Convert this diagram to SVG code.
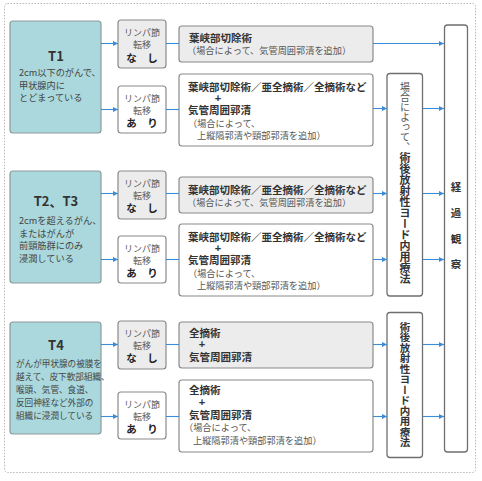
<svg xmlns="http://www.w3.org/2000/svg" width="482" height="481" viewBox="0 0 482 481">
<defs>
<marker id="ah" viewBox="0 0 6 6" refX="6" refY="3" markerWidth="5" markerHeight="5" orient="auto" markerUnits="userSpaceOnUse">
<path d="M0,0 L6,3 L0,6 z" fill="#3b8bd6"/>
</marker>
<style>
text{font-family:"Noto Sans CJK JP","Noto Sans",sans-serif;fill:#333;dominant-baseline:central}
.stage{fill:#aad8dc;stroke:#8f9a9b;stroke-width:1.2}
.lym{stroke:#8a8a8a;stroke-width:1.2}
.gray{fill:#ececec}
.white{fill:#fff}
.tr{stroke:#8a8a8a;stroke-width:1.2}
.vb{fill:#fff;stroke:#6f6f6f;stroke-width:1.3}
.tt{font-size:13px;font-weight:bold;text-anchor:middle;fill:#333}
.desc{font-size:9.2px;fill:#444}
.desc4{font-size:8.6px;fill:#444}
.ly{font-size:9px;fill:#5a5a5a;text-anchor:middle}
.lyb{font-size:10.5px;font-weight:bold;text-anchor:middle;fill:#222}
.b{font-size:10.5px;font-weight:bold;fill:#333}
.p{font-size:11px;font-weight:bold;fill:#333;text-anchor:middle;font-family:"Liberation Sans",sans-serif}
.n{font-size:9.2px;fill:#555}
.vt{writing-mode:vertical-rl;text-anchor:start}
.obs{font-size:10.5px;font-weight:bold;text-anchor:middle;fill:#333}
.conn line{stroke:#3b8bd6;stroke-width:1.1}
</style>
</defs>
<rect width="482" height="481" fill="#fff"/>
<rect x="4.5" y="3.5" width="471" height="469" rx="3" fill="none" stroke="#b8b8b8" stroke-width="1" stroke-dasharray="1.5 1.5"/>

<g id="t1">
<rect class="stage" x="10" y="21" width="91" height="112" rx="3"/>
<text class="tt" x="56" y="55">T1</text>
<text class="desc" x="19" y="72">2cm以下のがんで、</text>
<text class="desc" x="19" y="84.5">甲状腺内に</text>
<text class="desc" x="19" y="97">とどまっている</text>
</g>
<g id="t23">
<rect class="stage" x="10" y="171" width="91" height="112" rx="3"/>
<text class="tt" x="56" y="200">T2、T3</text>
<text class="desc" x="19" y="220">2cmを超えるがん、</text>
<text class="desc" x="19" y="232.5">またはがんが</text>
<text class="desc" x="19" y="245">前頸筋群にのみ</text>
<text class="desc" x="19" y="257.5">浸潤している</text>
</g>
<g id="t4">
<rect class="stage" x="10" y="322" width="91" height="112" rx="3"/>
<text class="tt" x="56" y="344">T4</text>
<text class="desc4" x="16" y="363">がんが甲状腺の被膜を</text>
<text class="desc4" x="16" y="376">越えて、皮下軟部組織、</text>
<text class="desc4" x="16" y="389">喉頭、気管、食道、</text>
<text class="desc4" x="16" y="402">反回神経など外部の</text>
<text class="desc4" x="16" y="415">組織に浸潤している</text>
</g>

<g id="l1n"><rect class="lym gray" x="118" y="20" width="48" height="48" rx="3"/>
<text class="ly" x="142" y="32">リンパ節</text><text class="ly" x="142" y="44">転移</text><text class="lyb" x="142" y="57">な　し</text></g>
<g id="l1a"><rect class="lym white" x="118" y="86" width="48" height="47" rx="3"/>
<text class="ly" x="142" y="98">リンパ節</text><text class="ly" x="142" y="110">転移</text><text class="lyb" x="142" y="122">あ　り</text></g>
<g id="l2n"><rect class="lym gray" x="118" y="171" width="48" height="48" rx="3"/>
<text class="ly" x="142" y="183">リンパ節</text><text class="ly" x="142" y="195">転移</text><text class="lyb" x="142" y="207">な　し</text></g>
<g id="l2a"><rect class="lym white" x="118" y="236" width="48" height="47" rx="3"/>
<text class="ly" x="142" y="248">リンパ節</text><text class="ly" x="142" y="260">転移</text><text class="lyb" x="142" y="272">あ　り</text></g>
<g id="l4n"><rect class="lym gray" x="118" y="321" width="48" height="48" rx="3"/>
<text class="ly" x="142" y="333">リンパ節</text><text class="ly" x="142" y="345">転移</text><text class="lyb" x="142" y="357">な　し</text></g>
<g id="l4a"><rect class="lym white" x="118" y="392" width="48" height="47" rx="3"/>
<text class="ly" x="142" y="404">リンパ節</text><text class="ly" x="142" y="416">転移</text><text class="lyb" x="142" y="428">あ　り</text></g>

<g id="tr1"><rect class="tr gray" x="179" y="26" width="194" height="36" rx="3"/>
<text class="b" x="189" y="37">葉峡部切除術</text>
<text class="n" x="187" y="50">（場合によって、気管周囲郭清を追加）</text></g>
<g id="tr2"><rect class="tr white" x="179" y="74" width="194" height="72" rx="3"/>
<text class="b" x="188" y="86.5">葉峡部切除術／亜全摘術／全摘術など</text>
<text class="p" x="218" y="97.5">+</text>
<text class="b" x="188" y="109">気管周囲郭清</text>
<text class="n" x="188" y="123">（場合によって、</text>
<text class="n" x="197" y="135">上縦隔郭清や頸部郭清を追加）</text></g>
<g id="tr3"><rect class="tr gray" x="179" y="177" width="194" height="36" rx="3"/>
<text class="b" x="188" y="189">葉峡部切除術／亜全摘術／全摘術など</text>
<text class="n" x="187" y="202">（場合によって、気管周囲郭清を追加）</text></g>
<g id="tr4"><rect class="tr white" x="179" y="224" width="194" height="72" rx="3"/>
<text class="b" x="188" y="236">葉峡部切除術／亜全摘術／全摘術など</text>
<text class="p" x="218" y="248">+</text>
<text class="b" x="188" y="259.5">気管周囲郭清</text>
<text class="n" x="188" y="273">（場合によって、</text>
<text class="n" x="197" y="285">上縦隔郭清や頸部郭清を追加）</text></g>
<g id="tr5"><rect class="tr gray" x="179" y="322" width="194" height="46" rx="3"/>
<text class="b" x="189" y="332">全摘術</text>
<text class="p" x="202" y="344">+</text>
<text class="b" x="189" y="356">気管周囲郭清</text></g>
<g id="tr6"><rect class="tr white" x="179" y="380" width="194" height="72" rx="3"/>
<text class="b" x="189" y="389">全摘術</text>
<text class="p" x="202" y="401.5">+</text>
<text class="b" x="189" y="414">気管周囲郭清</text>
<text class="n" x="184" y="427">（場合によって、</text>
<text class="n" x="193" y="440">上縦隔郭清や頸部郭清を追加）</text></g>

<g id="rai1"><rect class="vb" x="387" y="73.5" width="35.5" height="222.5" rx="3"/>
<text class="vt" x="405" y="82" style="font-size:10px;fill:#555">場合によって、</text>
<text class="vt" x="405" y="152.5" style="font-size:11px;font-weight:bold;fill:#333">術後放射性ヨード内用療法</text></g>
<g id="rai2"><rect class="vb" x="387" y="312.5" width="35.5" height="145" rx="3"/>
<text class="vt" x="405" y="321.5" style="font-size:10.5px;font-weight:bold;fill:#333">術後放射性ヨード内用療法</text></g>
<g id="obs"><rect class="vb" x="444.5" y="25" width="23" height="427" rx="3"/>
<text class="obs" x="456" y="186">経</text>
<text class="obs" x="456" y="212">過</text>
<text class="obs" x="456" y="238">観</text>
<text class="obs" x="456" y="263">察</text></g>

<g class="conn" id="connectors">
<line x1="101" y1="43.5" x2="118" y2="43.5" marker-end="url(#ah)"/>
<line x1="101" y1="109.5" x2="118" y2="109.5" marker-end="url(#ah)"/>
<line x1="101" y1="193.5" x2="118" y2="193.5" marker-end="url(#ah)"/>
<line x1="101" y1="259.5" x2="118" y2="259.5" marker-end="url(#ah)"/>
<line x1="101" y1="344.5" x2="118" y2="344.5" marker-end="url(#ah)"/>
<line x1="101" y1="416.5" x2="118" y2="416.5" marker-end="url(#ah)"/>
<line x1="166" y1="43.5" x2="179" y2="43.5"/>
<line x1="166" y1="109.5" x2="179" y2="109.5"/>
<line x1="166" y1="193.5" x2="179" y2="193.5"/>
<line x1="166" y1="259.5" x2="179" y2="259.5"/>
<line x1="166" y1="344.5" x2="179" y2="344.5"/>
<line x1="166" y1="416.5" x2="179" y2="416.5"/>
<line x1="373" y1="43.5" x2="444" y2="43.5" marker-end="url(#ah)"/>
<line x1="373" y1="108.5" x2="387" y2="108.5" marker-end="url(#ah)"/>
<line x1="423" y1="108.5" x2="444" y2="108.5" marker-end="url(#ah)"/>
<line x1="373" y1="193.5" x2="387" y2="193.5" marker-end="url(#ah)"/>
<line x1="423" y1="193.5" x2="444" y2="193.5" marker-end="url(#ah)"/>
<line x1="373" y1="259.5" x2="387" y2="259.5" marker-end="url(#ah)"/>
<line x1="423" y1="259.5" x2="444" y2="259.5" marker-end="url(#ah)"/>
<line x1="373" y1="344.5" x2="387" y2="344.5" marker-end="url(#ah)"/>
<line x1="423" y1="344.5" x2="444" y2="344.5" marker-end="url(#ah)"/>
<line x1="373" y1="416.5" x2="387" y2="416.5" marker-end="url(#ah)"/>
<line x1="423" y1="416.5" x2="444" y2="416.5" marker-end="url(#ah)"/>
</g>
</svg>
